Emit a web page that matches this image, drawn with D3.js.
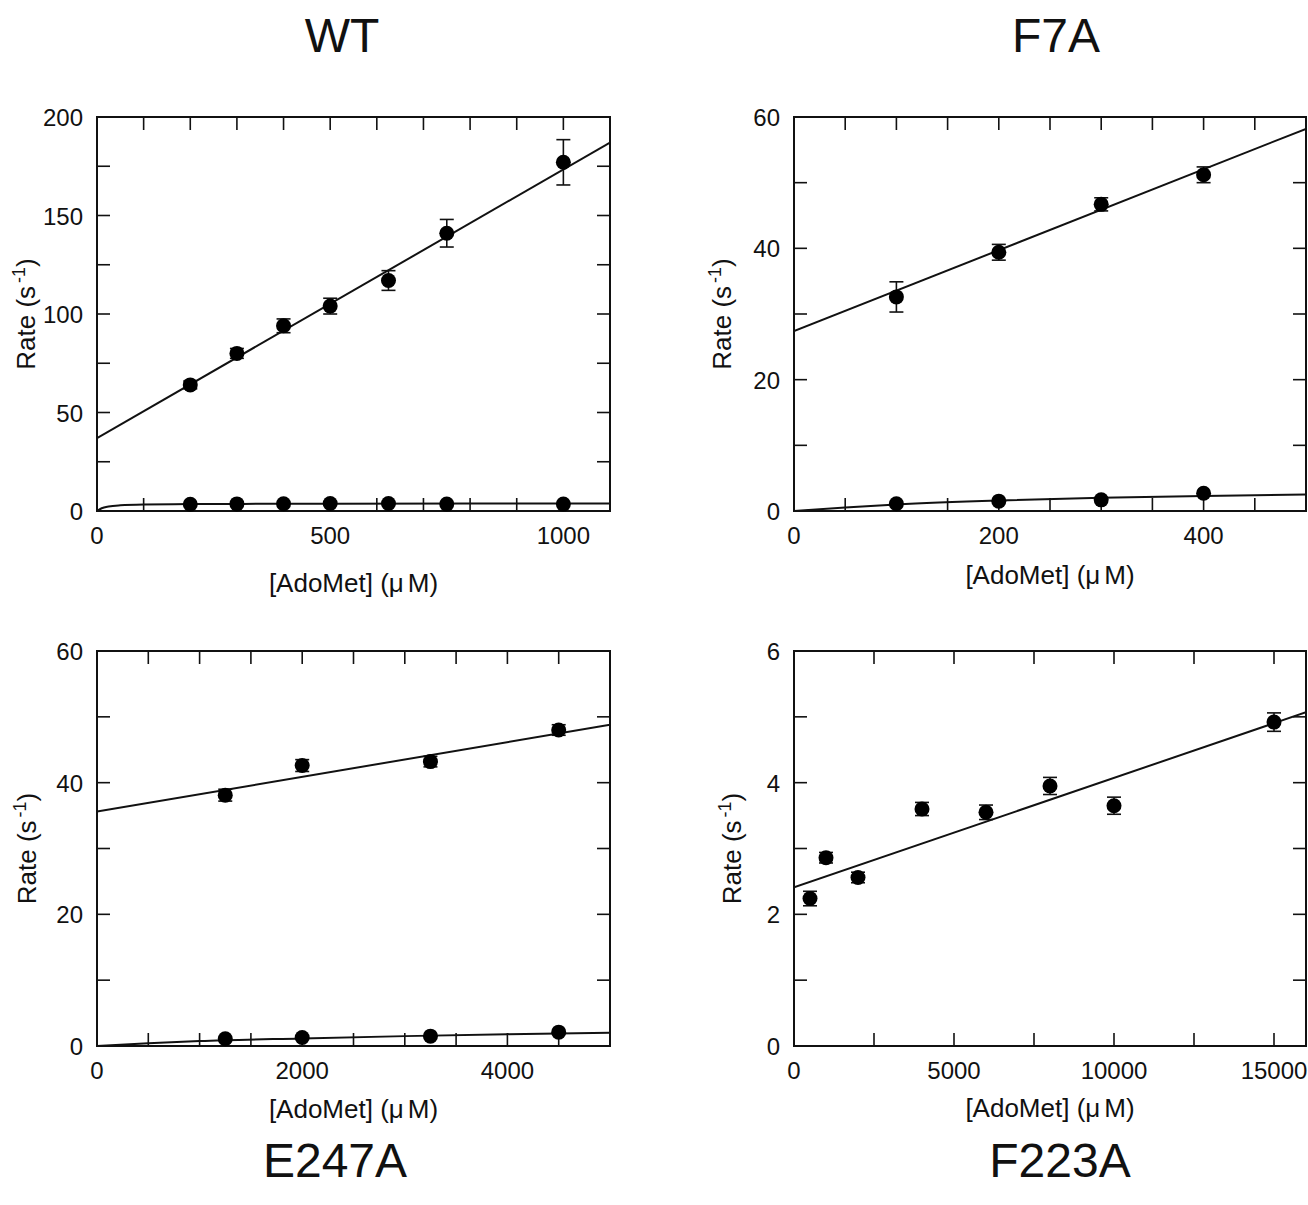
<!DOCTYPE html>
<html>
<head>
<meta charset="UTF-8">
<title>AdoMet rate plots</title>
<script src="https://d3js.org/d3.v7.min.js"></script>
<style>
    body { margin: 0; background: #fff; }
    svg { display: block; font-family: 'Liberation Sans', Arial, sans-serif; }
    .tick-label { font-size: 24px; fill: #111; }
    .axis-title { font-size: 26px; fill: #111; }
    .panel-title { font-size: 48px; fill: #111; }
</style>
</head>
<body>
<svg id="chart" width="1308" height="1205"></svg>
<script>
// ---- data ----
// WT
const wtX = [200, 300, 400, 500, 625, 750, 1000];
const wtFast = [64, 80, 94, 104, 117, 141, 177];
const wtFastErr = [2, 2.5, 3.5, 4, 5, 7, 11.5];
const wtSlow = [3.4, 3.6, 3.7, 3.8, 3.8, 3.5, 3.5];
const wtFastFit = [[0, 37], [1100, 187]];
const wtSlowFit = [[0, 0], [10, 1.4], [25, 2.3], [50, 2.9], [100, 3.3], [200, 3.5], [500, 3.7], [1100, 3.8]];

// F7A
const f7aX = [100, 200, 300, 400];
const f7aFast = [32.6, 39.4, 46.7, 51.2];
const f7aFastErr = [2.3, 1.2, 1.0, 1.2];
const f7aSlow = [1.1, 1.5, 1.7, 2.7];
const f7aFastFit = [[0, 27.4], [500, 58.2]];
const f7aSlowFit = [[0, 0], [50, 0.55], [100, 1.0], [200, 1.6], [300, 2.0], [400, 2.3], [500, 2.5]];

// E247A
const e247aX = [1250, 2000, 3250, 4500];
const e247aFast = [38.1, 42.6, 43.2, 48.0];
const e247aFastErr = [0.9, 0.9, 0.8, 0.8];
const e247aSlow = [1.1, 1.3, 1.5, 2.1];
const e247aFastFit = [[0, 35.6], [5000, 48.8]];
const e247aSlowFit = [[0, 0], [500, 0.4], [1000, 0.75], [2000, 1.15], [3000, 1.5], [4000, 1.8], [5000, 2.0]];

// F223A
const f223aX = [500, 1000, 2000, 4000, 6000, 8000, 10000, 15000];
const f223aRate = [2.24, 2.86, 2.56, 3.6, 3.55, 3.95, 3.65, 4.92];
const f223aErr = [0.11, 0.08, 0.08, 0.1, 0.11, 0.13, 0.13, 0.14];
const f223aFit = [[0, 2.41], [16000, 5.07]];

// ---- panel layout ----
const panels = [
    { title: "WT", titleX: 342, titleY: 52,
      left: 97, right: 610, top: 117, bottom: 511,
      xMax: 1100, xMajor: [0, 500, 1000], xMinor: d3.range(0, 1101, 100),
      yMax: 200, yMajor: [0, 50, 100, 150, 200], yMinor: d3.range(0, 201, 25),
      yTitleX: 35, xTitleY: 592,
      series: [
        { x: wtX, y: wtFast, err: wtFastErr, fit: wtFastFit },
        { x: wtX, y: wtSlow, err: null, fit: wtSlowFit }
      ] },
    { title: "F7A", titleX: 1056, titleY: 52,
      left: 794, right: 1306, top: 117, bottom: 511,
      xMax: 500, xMajor: [0, 200, 400], xMinor: d3.range(0, 501, 50),
      yMax: 60, yMajor: [0, 20, 40, 60], yMinor: d3.range(0, 61, 10),
      yTitleX: 731, xTitleY: 584,
      series: [
        { x: f7aX, y: f7aFast, err: f7aFastErr, fit: f7aFastFit },
        { x: f7aX, y: f7aSlow, err: null, fit: f7aSlowFit }
      ] },
    { title: "E247A", titleX: 335, titleY: 1177,
      left: 97, right: 610, top: 651, bottom: 1046,
      xMax: 5000, xMajor: [0, 2000, 4000], xMinor: d3.range(0, 5001, 500),
      yMax: 60, yMajor: [0, 20, 40, 60], yMinor: d3.range(0, 61, 10),
      yTitleX: 36, xTitleY: 1118,
      series: [
        { x: e247aX, y: e247aFast, err: e247aFastErr, fit: e247aFastFit },
        { x: e247aX, y: e247aSlow, err: null, fit: e247aSlowFit }
      ] },
    { title: "F223A", titleX: 1060, titleY: 1177,
      left: 794, right: 1306, top: 651, bottom: 1046,
      xMax: 16000, xMajor: [0, 5000, 10000, 15000], xMinor: d3.range(0, 16001, 2500),
      yMax: 6, yMajor: [0, 2, 4, 6], yMinor: d3.range(0, 7, 1),
      yTitleX: 741, xTitleY: 1117,
      series: [
        { x: f223aX, y: f223aRate, err: f223aErr, fit: f223aFit }
      ] }
];

const svg = d3.select("#chart");
const tickLen = 13;

panels.forEach(p => {
    const g = svg.append("g");
    const x = d3.scaleLinear().domain([0, p.xMax]).range([p.left, p.right]);
    const y = d3.scaleLinear().domain([0, p.yMax]).range([p.bottom, p.top]);

    // inward ticks on all four sides
    const tickLines = g.append("g").attr("stroke", "#111").attr("stroke-width", 1.6);
    p.xMinor.forEach(v => {
        tickLines.append("line").attr("x1", x(v)).attr("x2", x(v))
            .attr("y1", p.bottom).attr("y2", p.bottom - tickLen);
        tickLines.append("line").attr("x1", x(v)).attr("x2", x(v))
            .attr("y1", p.top).attr("y2", p.top + tickLen);
    });
    p.yMinor.forEach(v => {
        tickLines.append("line").attr("x1", p.left).attr("x2", p.left + tickLen)
            .attr("y1", y(v)).attr("y2", y(v));
        tickLines.append("line").attr("x1", p.right).attr("x2", p.right - tickLen)
            .attr("y1", y(v)).attr("y2", y(v));
    });

    // frame
    g.append("rect")
        .attr("x", p.left).attr("y", p.top)
        .attr("width", p.right - p.left).attr("height", p.bottom - p.top)
        .attr("fill", "none").attr("stroke", "#111").attr("stroke-width", 2);

    // tick labels
    g.selectAll(".xl").data(p.xMajor).enter().append("text")
        .attr("class", "tick-label")
        .attr("x", d => x(d)).attr("y", p.bottom + 33)
        .attr("text-anchor", "middle")
        .text(d => d);
    g.selectAll(".yl").data(p.yMajor).enter().append("text")
        .attr("class", "tick-label")
        .attr("x", p.left - 14).attr("y", d => y(d) + 9)
        .attr("text-anchor", "end")
        .text(d => d);

    // axis titles
    const xt = g.append("text").attr("class", "axis-title")
        .attr("x", (p.left + p.right) / 2).attr("y", p.xTitleY)
        .attr("text-anchor", "middle");
    xt.append("tspan").text("[AdoMet] (\u03BC");
    xt.append("tspan").attr("dx", 4).text("M)");
    const yt = g.append("text").attr("class", "axis-title")
        .attr("transform", `translate(${p.yTitleX},${(p.top + p.bottom) / 2}) rotate(-90)`)
        .attr("text-anchor", "middle");
    yt.append("tspan").text("Rate (s");
    yt.append("tspan").attr("dx", 3).attr("dy", -10).attr("font-size", 18).text("-1");
    yt.append("tspan").attr("dy", 10).text(")");

    // panel title
    svg.append("text").attr("class", "panel-title")
        .attr("x", p.titleX).attr("y", p.titleY)
        .attr("text-anchor", "middle")
        .text(p.title);

    const line = d3.line().x(d => x(d[0])).y(d => y(d[1]));
    const clipId = "clip-" + p.title;
    g.append("clipPath").attr("id", clipId).append("rect")
        .attr("x", p.left).attr("y", p.top)
        .attr("width", p.right - p.left).attr("height", p.bottom - p.top);

    p.series.forEach(s => {
        // fit line / curve
        g.append("path")
            .datum(s.fit)
            .attr("clip-path", `url(#${clipId})`)
            .attr("fill", "none").attr("stroke", "#111").attr("stroke-width", 2)
            .attr("d", line.curve(s.fit.length > 2 ? d3.curveMonotoneX : d3.curveLinear));

        const pts = s.x.map((xv, i) => ({ x: xv, y: s.y[i], e: s.err ? s.err[i] : 0 }));

        // error bars
        if (s.err) {
            const eb = g.append("g").attr("stroke", "#111").attr("stroke-width", 1.6);
            pts.forEach(d => {
                eb.append("line").attr("x1", x(d.x)).attr("x2", x(d.x))
                    .attr("y1", y(d.y - d.e)).attr("y2", y(d.y + d.e));
                [d.y - d.e, d.y + d.e].forEach(v => {
                    eb.append("line").attr("x1", x(d.x) - 7).attr("x2", x(d.x) + 7)
                        .attr("y1", y(v)).attr("y2", y(v));
                });
            });
        }

        g.selectAll(null).data(pts).enter().append("circle")
            .attr("cx", d => x(d.x)).attr("cy", d => y(d.y))
            .attr("r", 7.5).attr("fill", "#000");
    });
});
</script>
</body>
</html>
